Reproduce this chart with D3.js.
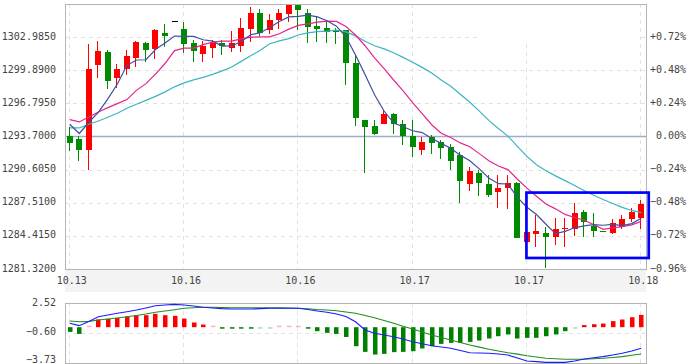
<!DOCTYPE html>
<html>
<head>
<meta charset="utf-8">
<script src="https://cdn.jsdelivr.net/npm/d3@7"></script>
<style>
  body { margin: 0; background: #fff; }
  svg { display: block; }
  text { font-family: 'DejaVu Sans Mono', monospace; font-size: 10px; fill: #444; }
</style>
</head>
<body>
<div id="chart"></div>
<script>
// K线 + 均线 + MACD

const open  = [1293.72,1293.42,1292.42,1300.35,1301.56,1299.16,1300.04,1301.06,1302.46,1301.84,
               1303.40,1304.45,1303.77,1302.46,1301.44,1301.96,1302.43,1301.96,1302.15,1303.77,
               1305.26,1303.61,1304.54,1305.17,1305.94,1305.26,1303.98,1303.86,1303.54,1303.61,
               1300.56,1295.22,1294.66,1294.91,1295.84,1294.91,1293.72,1292.42,1293.66,1293.16,
               1292.73,1291.95,1289.22,1290.25,1289.25,1288.53,1288.85,1289.37,1283.87,1284.56,
               1284.65,1284.28,1285.02,1285.02,1286.66,1285.33,1284.86,1284.71,1285.21,1285.96,
               1286.10];
const close = [1293.10,1292.45,1300.04,1301.65,1298.88,1300.04,1301.18,1302.49,1301.74,1303.67,
               1303.08,1304.45,1302.37,1301.68,1302.12,1302.43,1302.12,1302.46,1303.80,1305.26,
               1303.40,1304.54,1305.26,1305.94,1305.54,1303.92,1303.70,1303.45,1303.45,1300.56,
               1295.45,1294.59,1293.98,1295.84,1294.91,1293.72,1292.73,1293.14,1293.10,1292.60,
               1291.42,1289.56,1290.46,1289.37,1288.25,1288.85,1289.37,1284.18,1284.80,1284.86,
               1284.28,1285.05,1285.17,1286.51,1285.73,1284.86,1284.74,1285.58,1285.96,1286.66,
               1287.38];
const high  = [1294.59,1293.77,1302.37,1302.58,1301.74,1300.44,1301.81,1302.58,1302.52,1303.77,
               1304.17,1304.45,1304.38,1302.68,1302.61,1302.74,1302.68,1303.52,1304.76,1305.78,
               1305.57,1305.10,1305.57,1305.97,1305.97,1305.63,1304.92,1304.54,1303.86,1303.66,
               1301.28,1295.26,1295.22,1296.21,1295.90,1295.28,1295.22,1293.66,1293.82,1293.35,
               1293.04,1292.23,1290.86,1290.60,1290.09,1290.09,1290.09,1289.46,1286.29,1286.36,
               1285.21,1286.10,1286.10,1287.50,1286.82,1286.51,1284.86,1285.96,1286.36,1286.98,
               1287.75];
const low   = [1292.33,1291.39,1290.58,1299.16,1298.17,1298.27,1299.41,1300.19,1300.65,1300.97,
               1302.05,1304.45,1301.46,1300.65,1300.65,1301.06,1301.28,1301.59,1301.59,1302.52,
               1303.08,1303.30,1303.77,1304.38,1303.61,1302.43,1302.52,1302.43,1302.30,1298.48,
               1294.66,1290.25,1293.82,1294.86,1293.91,1292.88,1291.79,1291.95,1292.11,1291.64,
               1290.55,1287.45,1288.62,1288.13,1288.06,1286.98,1286.89,1284.18,1283.87,1283.40,
               1281.39,1283.56,1283.40,1284.40,1284.33,1284.33,1284.74,1284.58,1285.02,1285.73,
               1285.02];

const ma5  = [1294.84,1293.98,1295.03,1295.96,1297.22,1298.61,1300.35,1300.85,1300.87,1301.83,
              1302.43,1303.09,1303.06,1303.05,1302.74,1302.61,1302.15,1302.16,1302.58,1303.21,
              1303.40,1303.89,1304.45,1304.88,1304.93,1305.04,1304.87,1304.51,1304.01,1303.01,
              1301.32,1299.50,1297.60,1296.08,1294.96,1294.61,1294.24,1294.07,1293.52,1293.06,
              1292.60,1291.96,1291.43,1290.68,1289.81,1289.29,1289.26,1288.01,1287.09,1286.41,
              1285.50,1284.63,1284.84,1285.17,1285.35,1285.47,1285.41,1285.49,1285.38,1285.56,
              1286.07];
const ma10 = [1295.28,1295.06,1295.52,1295.99,1296.40,1296.77,1297.15,1298.01,1298.64,1299.52,
              1300.52,1301.73,1301.96,1301.96,1302.29,1302.52,1302.61,1302.61,1302.82,1302.98,
              1303.00,1303.01,1303.30,1303.73,1304.08,1304.23,1304.38,1304.48,1304.45,1303.97,
              1303.18,1302.18,1301.05,1300.05,1298.98,1297.97,1296.87,1295.83,1294.80,1294.00,
              1293.60,1293.10,1292.74,1292.10,1291.43,1290.94,1290.61,1289.71,1288.88,1288.11,
              1287.40,1286.94,1286.42,1286.13,1285.88,1285.48,1285.02,1285.16,1285.27,1285.45,
              1285.77];
const ma20 = [1294.50,1294.50,1294.84,1295.15,1295.50,1295.87,1296.34,1296.71,1297.08,1297.45,
              1297.87,1298.34,1298.71,1298.99,1299.23,1299.51,1299.83,1300.19,1300.72,1301.25,
              1301.76,1302.37,1302.63,1302.84,1303.18,1303.38,1303.50,1303.54,1303.63,1303.48,
              1303.10,1302.60,1302.18,1301.89,1301.53,1301.09,1300.63,1300.16,1299.63,1298.99,
              1298.40,1297.64,1296.90,1296.07,1295.21,1294.45,1293.74,1292.77,1291.84,1291.06,
              1290.50,1290.02,1289.58,1289.12,1288.66,1288.21,1287.81,1287.44,1287.08,1286.79,
              1286.58];

const dif  = [0.41,0.16,0.60,1.09,1.27,1.45,1.61,1.79,2.00,2.24,
              2.31,2.38,2.31,2.21,2.07,2.00,1.93,1.89,1.89,1.89,
              1.93,1.97,1.97,1.97,1.97,1.84,1.69,1.55,1.37,1.11,
              0.57,-0.29,-0.64,-0.81,-0.99,-1.23,-1.51,-1.72,-1.93,-2.06,
              -2.20,-2.43,-2.66,-2.69,-2.72,-2.79,-2.90,-3.21,-3.52,-3.59,
              -3.66,-3.66,-3.66,-3.52,-3.31,-3.19,-3.07,-2.90,-2.72,-2.48,
              -2.20];
const dea  = [0.64,0.57,0.61,0.75,0.85,0.96,1.09,1.22,1.37,1.55,
              1.69,1.82,1.97,2.03,2.07,2.07,2.05,2.03,2.03,2.03,
              2.03,2.03,2.01,2.00,1.97,1.92,1.84,1.79,1.71,1.58,
              1.45,1.22,0.99,0.70,0.41,0.10,-0.19,-0.50,-0.81,-1.07,
              -1.33,-1.59,-1.86,-2.08,-2.30,-2.48,-2.66,-2.81,-2.97,-3.10,
              -3.24,-3.29,-3.34,-3.34,-3.34,-3.29,-3.24,-3.16,-3.07,-2.93,
              -2.79];
const hist = [-0.49,-0.70,0.03,0.80,0.87,0.97,1.11,1.25,1.25,1.39,
              1.25,1.18,0.90,0.49,0.28,0.04,-0.08,-0.10,-0.08,-0.07,
              -0.02,-0.02,0,0.02,0.02,-0.09,-0.42,-0.59,-0.70,-1.02,
              -1.98,-2.57,-2.85,-2.78,-2.60,-2.57,-2.50,-2.22,-1.98,-1.74,
              -1.63,-1.63,-1.53,-1.39,-1.18,-0.94,-0.76,-1.18,-1.11,-1.11,
              -0.94,-0.76,-0.42,-0.02,0.22,0.31,0.38,0.63,0.80,1.04,
              1.28];

const dateIdx    = [0, 12, 24, 36, 48, 60];
const dateLabels = ['10.13', '10.16', '10.16', '10.17', '10.17', '10.18'];
const priceTicks = [1302.985, 1299.89, 1296.795, 1293.7, 1290.605, 1287.51, 1284.415, 1281.32];
const pctLabels  = ['+0.72%', '+0.48%', '+0.24%', '0.00%', '\u22120.24%', '\u22120.48%', '\u22120.72%', '\u22120.96%'];
const macdTicks  = [2.52, -0.60, -3.73];
const priceBase  = 1293.7;
// prostokat zaznaczenia (ostatnie swiece)
const boxFrom = 48, boxTo = 60, boxHi = 1288.46, boxLo = 1282.35;

const W = 690, H = 364;
const P = { l: 65, r: 646, t: 4, b: 269 };
const M = { t: 303, b: 363 };
const RED = '#ff0000', GRN = '#008a00';

const svg = d3.select('#chart').append('svg').attr('width', W).attr('height', H);

const x  = d3.scalePoint().domain(d3.range(open.length)).range([P.l, P.r]).padding(0.5);
const y  = d3.scaleLinear().domain([1281.32, 1306.08]).range([P.b, P.t]);
const ym = d3.scaleLinear().domain([-3.73, 2.52]).range([M.b, M.t]);
const px = i => Math.round(x(i));
const fmtM = v => (v < 0 ? '\u2212' : '') + Math.abs(v).toFixed(2);

// pasek z datami
svg.append('rect').attr('x', P.l).attr('y', P.b + 1).attr('width', P.r - P.l).attr('height', 22).attr('fill', '#f3f3f3');

// siatka
const grid = svg.append('g').attr('stroke', '#e2e2e2').attr('stroke-dasharray', '4,4');
priceTicks.forEach(p => {
  if (p === priceBase || p === 1281.32) return;
  const yy = Math.round(y(p)) + 0.5;
  grid.append('line').attr('x1', P.l).attr('x2', P.r).attr('y1', yy).attr('y2', yy);
});
dateIdx.forEach(i => {
  const xx = px(i) - 0.5;
  grid.append('line').attr('x1', xx).attr('x2', xx).attr('y1', P.t).attr('y2', P.b);
  grid.append('line').attr('x1', xx).attr('x2', xx).attr('y1', M.t).attr('y2', M.b);
});
grid.append('line').attr('x1', P.l).attr('x2', P.r)
  .attr('y1', Math.round(ym(-0.60)) + 0.5).attr('y2', Math.round(ym(-0.60)) + 0.5);

// puste pole legendy w prawym gornym rogu
svg.append('rect').attr('x', 478).attr('y', P.t + 1).attr('width', 162).attr('height', 38).attr('fill', '#fff');

// linia bazowa 0.00%
svg.append('line').attr('x1', P.l).attr('x2', P.r)
  .attr('y1', Math.round(y(priceBase)) + 0.5).attr('y2', Math.round(y(priceBase)) + 0.5)
  .attr('stroke', '#9eabc9').attr('stroke-width', 1.4);

// ramki
svg.append('rect').attr('x', P.l + 0.5).attr('y', P.t + 0.5).attr('width', P.r - P.l).attr('height', P.b - P.t)
  .attr('fill', 'none').attr('stroke', '#b4b4b4');
svg.append('rect').attr('x', P.l + 0.5).attr('y', M.t + 0.5).attr('width', P.r - P.l).attr('height', M.b - M.t)
  .attr('fill', 'none').attr('stroke', '#b4b4b4');

// swiece
const cg = svg.append('g');
open.forEach((o, i) => {
  const c = close[i];
  const col = c > o ? RED : (c < o ? GRN : '#000');
  const cx = px(i);
  cg.append('line').attr('x1', cx - 0.5).attr('x2', cx - 0.5)
    .attr('y1', Math.round(y(high[i]))).attr('y2', Math.round(y(low[i])))
    .attr('stroke', col).attr('stroke-width', 1);
  const top = Math.round(y(Math.max(o, c)));
  const bot = Math.round(y(Math.min(o, c)));
  cg.append('rect').attr('x', cx - 3).attr('y', top).attr('width', 6).attr('height', Math.max(1, bot - top))
    .attr('fill', col);
});

// srednie kroczace
const line = d3.line().x((d, i) => x(i)).y(d => y(d));
[[ma20, '#3cb4c2'], [ma10, '#e4268c'], [ma5, '#404fa0']].forEach(([s, col]) =>
  svg.append('path').attr('d', line(s)).attr('fill', 'none').attr('stroke', col).attr('stroke-width', 1.2)
);

// zaznaczenie
svg.append('rect')
  .attr('x', x(boxFrom) - 0.5).attr('y', y(boxHi))
  .attr('width', x(boxTo) + 8 - x(boxFrom)).attr('height', y(boxLo) - y(boxHi))
  .attr('fill', 'none').attr('stroke', '#0000ff').attr('stroke-width', 2.7);

// MACD slupki
const z = ym(0);
hist.forEach((v, i) => {
  const small = Math.abs(v) < 0.05;
  const h = Math.max(1.5, Math.abs(ym(v) - z));
  svg.append('rect').attr('x', px(i) - 2).attr('width', 4.5)
    .attr('y', v >= 0 ? z - h : z).attr('height', h)
    .attr('fill', v >= 0 ? RED : '#008000').attr('opacity', small ? 0.3 : 1);
});
const mline = d3.line().x((d, i) => x(i)).y(d => ym(d));
svg.append('path').attr('d', mline(dea)).attr('fill', 'none').attr('stroke', '#1f8f1f').attr('stroke-width', 1.1);
svg.append('path').attr('d', mline(dif)).attr('fill', 'none').attr('stroke', '#1a1aff').attr('stroke-width', 1.1);

// opisy osi
priceTicks.forEach((p, k) => {
  svg.append('text').attr('x', 56).attr('y', y(p) - 1).attr('dy', '0.35em').attr('text-anchor', 'end').text(p.toFixed(4));
  svg.append('text').attr('x', 686).attr('y', y(p) - 1).attr('dy', '0.35em').attr('text-anchor', 'end').text(pctLabels[k]);
});
dateIdx.forEach((i, k) =>
  svg.append('text').attr('x', x(i) + 2).attr('y', P.b + 11).attr('dy', '0.35em').attr('text-anchor', 'middle').text(dateLabels[k])
);
// ostatnia etykieta MACD podniesiona, zeby sie miescila
macdTicks.forEach(v =>
  svg.append('text').attr('x', 56).attr('y', Math.min(ym(v) - 1, H - 5)).attr('dy', '0.35em').attr('text-anchor', 'end').text(fmtM(v))
);
</script>
</body>
</html>
